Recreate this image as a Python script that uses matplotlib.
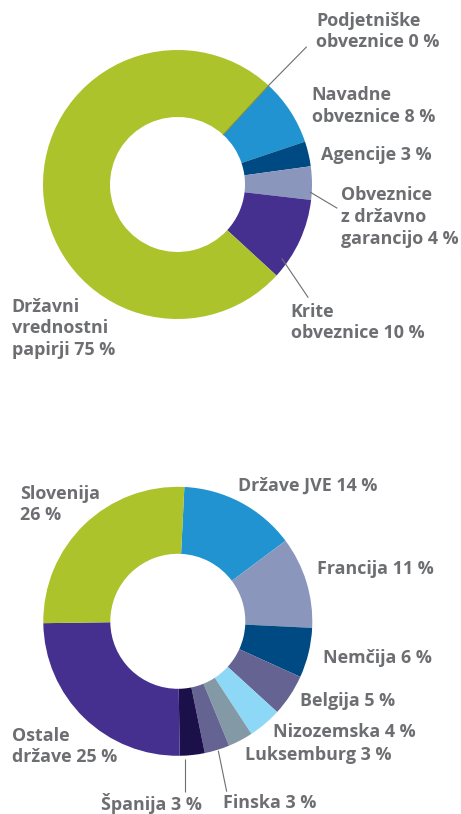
import numpy as np
import matplotlib
matplotlib.use("Agg")
import matplotlib.pyplot as plt

W, H = 461, 814

# Portfolio by instrument type
type_labels = ["Podjetniške\nobveznice 0 %", "Navadne\nobveznice 8 %", "Agencije 3 %",
               "Obveznice\nz državno\ngarancijo 4 %", "Krite\nobveznice 10 %",
               "Državni\nvrednostni\npapirji 75 %"]
type_values = [0, 8, 3, 4, 10, 75]
type_colors = ["#8C8C8C", "#2193D1", "#004A84", "#8A96BB", "#45308F", "#ADC32B"]

# Portfolio by country
country_labels = ["Države JVE 14 %", "Francija 11 %", "Nemčija 6 %", "Belgija 5 %",
                  "Nizozemska 4 %", "Luksemburg 3 %", "Finska 3 %", "Španija 3 %",
                  "Ostale\ndržave 25 %", "Slovenija\n26 %"]
country_values = [14, 11, 6, 5, 4, 3, 3, 3, 25, 26]
country_colors = ["#2193D1", "#8A96BB", "#004A84", "#646391", "#8ED8F7",
                  "#8499A6", "#646391", "#1C104A", "#45308F", "#ADC32B"]

TEXT = "#6D6E71"
plt.rcParams['font.family'] = ['Open Sans', 'DejaVu Sans']

fig = plt.figure(figsize=(W / 100, H / 100), dpi=100)
ax = fig.add_axes([0, 0, 1, 1])
ax.set_xlim(0, W)
ax.set_ylim(0, H)
ax.set_aspect('equal')
ax.axis('off')


def Y(y):
    return H - y


R_OUT, R_IN = 134.5, 67.5


def donut(values, colors, center, start):
    ax.pie(values, colors=colors, startangle=start, counterclock=False,
           center=(center[0], Y(center[1])), radius=R_OUT,
           wedgeprops=dict(width=R_OUT - R_IN, linewidth=0), frame=True)


def label(x, y, s):
    ax.text(x, Y(y), s, color=TEXT, fontsize=12.9, fontweight='bold',
            ha='left', va='center', linespacing=1.25)


def leader(x0, y0, x1, y1):
    ax.plot([x0, x1], [Y(y0), Y(y1)], color="#6D6E71", lw=0.8, solid_capstyle='butt')


# top donut
c1 = (177.5, 184.5)
start1 = 47.4
donut(type_values, type_colors, c1, start1)
a = np.deg2rad(start1)
ax.plot([c1[0] + R_IN * np.cos(a), c1[0] + R_OUT * np.cos(a)],
        [Y(c1[1]) + R_IN * np.sin(a), Y(c1[1]) + R_OUT * np.sin(a)],
        color="#7F8A3A", lw=0.7)
leader(306.7, 46.7, c1[0] + R_OUT * np.cos(a), c1[1] - R_OUT * np.sin(a))
leader(310, 192, 337.3, 208.3)
leader(281.7, 258.3, 308.3, 297.7)

label(316, 31.5, type_labels[0])
label(311.7, 106, type_labels[1])
label(320.7, 155, type_labels[2])
label(340.7, 217, type_labels[3])
label(290.7, 322.5, type_labels[4])
label(11.7, 328.3, type_labels[5])

# bottom donut
c2 = (177.8, 621.3)
donut(country_values, country_colors, c2, 87.2)
leader(185, 759.3, 185, 791.7)
leader(218.3, 750.7, 226.7, 791.7)

label(238.3, 486, country_labels[0])
label(316.7, 569, country_labels[1])
label(323.3, 658.3, country_labels[2])
label(300, 700.7, country_labels[3])
label(273.3, 731.7, country_labels[4])
label(245, 755, country_labels[5])
label(222.7, 803.3, country_labels[6])
label(101, 803.3, country_labels[7])
label(11.7, 746.6, country_labels[8])
label(20, 504.5, country_labels[9])

ax.set_xlim(0, W)
ax.set_ylim(0, H)
fig.savefig("out.png", dpi=100)
